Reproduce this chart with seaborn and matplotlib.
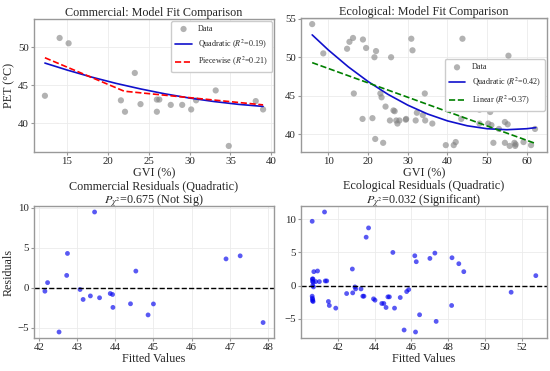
import numpy as np
import pandas as pd
import matplotlib
matplotlib.use("Agg")
import matplotlib.pyplot as plt
import seaborn as sns

# ---------------- data ----------------
com_gvi = [12.3, 14.1, 15.2, 21.6, 22.1, 23.3, 24.0, 26.0, 26.3, 26.0, 27.7, 28.4,
           29.1, 30.2, 30.8, 33.1, 33.2, 34.8, 38.1, 39.0]
com_pet = [43.6, 51.2, 50.5, 43.0, 41.5, 46.6, 42.5, 43.1, 43.1, 41.5, 42.4, 52.9,
           42.4, 41.8, 43.0, 47.0, 44.3, 37.0, 42.9, 41.8]

com_quad_x = [12.3, 15, 18, 21, 24, 27, 30, 33, 36, 39]
com_quad_y = [47.90, 46.99, 46.06, 45.23, 44.50, 43.85, 43.30, 42.84, 42.47, 42.20]
com_pw_x = [12.3, 22.0, 39.0]
com_pw_y = [48.6, 44.2, 42.4]

eco_gvi = [5.9, 8.7, 14.7, 15.3, 16.2, 18.7, 19.5, 22.0, 21.6, 16.4, 18.6, 21.1,
           21.8, 23.8, 23.1, 23.4, 24.4, 25.8, 26.4, 26.7, 25.5, 27.1, 27.4, 27.9,
           29.5, 29.6, 30.9, 31.2, 32.0, 32.3, 34.3, 34.4, 33.8, 36.2, 43.8, 39.6,
           41.6, 42.1, 43.5, 48.1, 48.1, 50.8, 50.3, 51.1, 51.6, 53.0, 54.5, 55.2,
           55.4, 54.5, 55.7, 56.9, 57.2, 57.1, 59.2, 61.1, 62.1]
eco_pet = [54.3, 50.5, 51.1, 52.0, 52.5, 52.3, 51.2, 50.8, 50.0, 45.3, 42.0, 42.1,
           39.4, 38.9, 45.3, 44.8, 43.6, 50.0, 43.1, 43.0, 41.8, 41.8, 41.4, 41.8,
           41.9, 42.0, 52.4, 50.9, 41.8, 42.8, 45.3, 41.8, 42.5, 41.4, 52.4, 38.6,
           38.6, 39.0, 42.0, 43.2, 41.4, 42.9, 41.4, 41.2, 38.9, 40.7, 41.6, 41.3,
           50.2, 38.9, 38.5, 38.9, 38.7, 38.5, 39.0, 38.6, 40.7]

eco_quad_x = [5.9, 10, 15, 20, 25, 30, 35, 40, 45, 50, 55, 60, 62.3]
eco_quad_y = [52.90, 50.93, 48.76, 46.85, 45.19, 43.79, 42.64, 41.75, 41.11, 40.73,
              40.60, 40.73, 40.87]
eco_lin_x = [5.9, 62.3]
eco_lin_y = [49.3, 38.8]

com_fit = [42.16, 42.23, 42.53, 42.73, 42.75, 43.46, 43.08, 43.16, 43.35, 43.59,
           43.87, 43.93, 43.94, 44.40, 44.54, 44.86, 45.00, 46.90, 47.27, 47.87]
com_res = [-0.41, 0.66, -5.5, 1.56, 4.3, 9.47, -0.2, -1.44, -1.0, -1.23,
           -0.7, -0.82, -2.43, -1.98, 2.1, -3.37, -2.0, 3.62, 4.0, -4.32]

eco_fit = [40.61, 41.28, 40.62, 40.63, 40.66, 40.64, 40.68, 40.61, 40.62, 40.64,
           40.66, 40.63, 40.70, 40.90, 40.65, 40.80, 41.00, 41.32, 41.40, 41.49,
           41.54, 41.89, 42.48, 42.79, 42.81, 42.93, 42.97, 43.26, 43.36, 43.42,
           43.54, 43.67, 43.94, 44.02, 44.39, 44.50, 44.62, 44.72, 44.80, 44.99,
           45.08, 45.39, 45.60, 45.74, 45.85, 46.18, 46.26, 46.22, 46.44, 47.00,
           47.27, 47.34, 48.20, 48.18, 48.57, 48.84, 51.41, 52.75]
eco_res = [9.7, 11.1, 1.0, 0.65, 0.5, 0.0, -0.2, -1.6, -1.9, -2.1,
           -2.4, -2.3, 2.1, 2.2, 1.0, 0.6, 0.6, 0.7, 0.7, -2.4,
           -3.0, -3.4, -1.2, 2.5, -1.1, -0.2, -0.5, -0.5, -1.6, -1.6,
           7.3, 8.7, -2.0, -2.2, -2.7, -2.7, -3.3, -1.7, -1.7, 5.0,
           -3.4, -1.8, -6.7, -0.9, -0.6, 4.5, 3.6, -7.0, -4.4, 4.1,
           4.9, -5.4, 4.2, -3.0, 3.3, 2.1, -1.0, 1.5]

titles = ["Commercial: Model Fit Comparison", "Ecological: Model Fit Comparison",
          "Commercial Residuals (Quadratic)\n$P_{\\chi^2}$=0.675 (Not Sig)",
          "Ecological Residuals (Quadratic)\n$P_{\\chi^2}$=0.032 (Significant)"]

# ---------------- style ----------------
sns.set_theme(style="whitegrid")
plt.rcParams["font.family"] = ["Liberation Serif", "DejaVu Serif"]
plt.rcParams["mathtext.fontset"] = "stix"
plt.rcParams["axes.edgecolor"] = "#999999"
plt.rcParams["axes.linewidth"] = 1.0
plt.rcParams["grid.color"] = "#ebebeb"
plt.rcParams["grid.linewidth"] = 0.6

fig = plt.figure(figsize=(5.5, 3.71), dpi=100)
W, H = 550, 371
def pos(l, r, t, b):
    return [l / W, 1 - b / H, (r - l) / W, (b - t) / H]

ax1 = fig.add_axes(pos(34, 274, 19, 152))
ax2 = fig.add_axes(pos(301, 547, 18, 152))
ax3 = fig.add_axes(pos(34, 274, 206, 338))
ax4 = fig.add_axes(pos(301, 547, 206, 338))

TS, LS, TK, LG = 8.7, 8.7, 7.8, 5.9
leg_kw = dict(fontsize=LG, framealpha=1, handlelength=2.0, borderpad=0.5,
              labelspacing=0.55, edgecolor="#cccccc", borderaxespad=0.25)

# Commercial fit
sns.scatterplot(x=com_gvi, y=com_pet, ax=ax1, color="gray", alpha=0.6, s=20,
                edgecolor="none", label="Data")
sns.lineplot(x=com_quad_x, y=com_quad_y, ax=ax1, color="#1010cc", lw=1.2,
             label="Quadratic ($R^2$=0.19)")
sns.lineplot(x=com_pw_x, y=com_pw_y, ax=ax1, color="red", lw=1.2, linestyle="--",
             label="Piecewise ($R^2$=0.21)")
ax1.legend(loc="upper right", **leg_kw)
ax1.set_xlabel("GVI (%)", fontsize=LS, labelpad=1)
ax1.set_ylabel("PET (°C)", fontsize=LS, labelpad=2)
ax1.set_title(titles[0], fontsize=TS, pad=2)
ax1.set_xticks([15, 20, 25, 30, 35, 40])
ax1.set_yticks([40, 45, 50])

# Ecological fit
sns.scatterplot(x=eco_gvi, y=eco_pet, ax=ax2, color="gray", alpha=0.6, s=20,
                edgecolor="none", label="Data")
sns.lineplot(x=eco_quad_x, y=eco_quad_y, ax=ax2, color="#1010cc", lw=1.2,
             label="Quadratic ($R^2$=0.42)")
sns.lineplot(x=eco_lin_x, y=eco_lin_y, ax=ax2, color="green", lw=1.2, linestyle="--",
             label="Linear ($R^2$=0.37)")
ax2.legend(loc="center right", **leg_kw)
ax2.set_xlabel("GVI (%)", fontsize=LS, labelpad=1)
ax2.set_ylabel("")
ax2.set_title(titles[1], fontsize=TS, pad=2)
ax2.set_yticks([40, 45, 50, 55])

# Residuals
for ax, fx, rs, t in [(ax3, com_fit, com_res, titles[2]), (ax4, eco_fit, eco_res, titles[3])]:
    sns.scatterplot(x=fx, y=rs, ax=ax, color="#0000ee", alpha=0.65, s=12, edgecolor="none")
    ax.axhline(0, color="black", linestyle="--", lw=1.0)
    ax.set_xlabel("Fitted Values", fontsize=LS, labelpad=1)
    ax.set_title(t, fontsize=TS, pad=1.5, linespacing=1.0)
ax3.set_ylabel("Residuals", fontsize=LS, labelpad=2)
ax3.set_yticks([-5, 0, 5, 10])
ax4.set_yticks([-5, 0, 5, 10])

for ax in [ax1, ax2, ax3, ax4]:
    ax.tick_params(labelsize=TK, pad=1, length=2.5, width=0.8, color="#999999",
                   bottom=True, left=True)
    for sp in ax.spines.values():
        sp.set_color("#999999")

fig.savefig("out.png", dpi=100)
